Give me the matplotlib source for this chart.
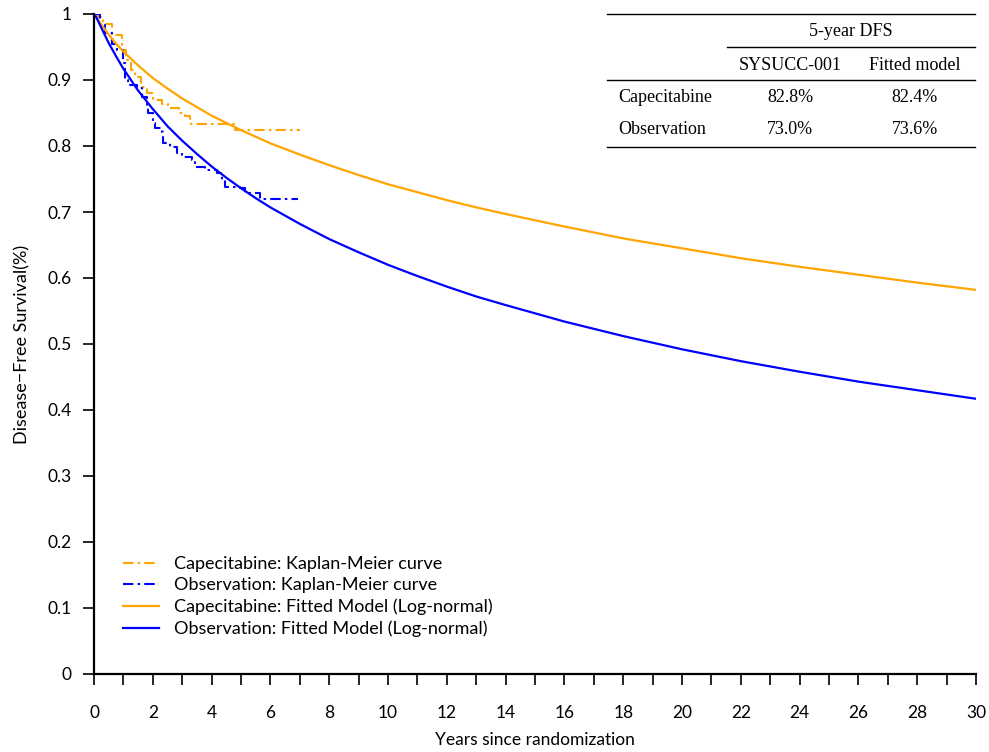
import matplotlib
matplotlib.use("Agg")
import matplotlib.pyplot as plt
from matplotlib.lines import Line2D

# Fitted log-normal curves
fit_t = [0, 0.05, 0.1, 0.25, 0.5, 0.75, 1, 1.5, 2, 2.5, 3, 3.5, 4, 4.5, 5, 5.5,
         6, 7, 8, 9, 10, 11, 12, 13, 14, 16, 18, 20, 22, 24, 26, 28, 30]
cape_fit = [1.0, 0.997, 0.994, 0.984, 0.969, 0.955, 0.943, 0.922, 0.903, 0.887,
            0.872, 0.859, 0.846, 0.835, 0.824, 0.814, 0.804, 0.787, 0.771,
            0.756, 0.742, 0.730, 0.718, 0.707, 0.697, 0.678, 0.660, 0.645,
            0.630, 0.617, 0.605, 0.593, 0.582]
obs_fit = [1.0, 0.997, 0.993, 0.979, 0.956, 0.936, 0.917, 0.884, 0.856, 0.830,
           0.808, 0.788, 0.769, 0.752, 0.736, 0.721, 0.707, 0.682, 0.659,
           0.639, 0.620, 0.603, 0.587, 0.572, 0.559, 0.534, 0.512, 0.492,
           0.474, 0.458, 0.443, 0.430, 0.417]

# Kaplan-Meier step curves
cape_km_t = [0, 0.15, 0.3, 0.6, 0.95, 1.1, 1.25, 1.4, 1.6, 1.8, 2.0, 2.3, 2.5,
             2.9, 3.1, 3.25, 3.3, 4.8, 7.0]
cape_km_s = [1.0, 0.995, 0.985, 0.968, 0.945, 0.93, 0.915, 0.905, 0.89, 0.88,
             0.87, 0.863, 0.857, 0.85, 0.845, 0.838, 0.833, 0.825, 0.825]
obs_km_t = [0, 0.2, 0.37, 0.6, 0.78, 0.99, 1.05, 1.16, 1.46, 1.63, 1.8, 1.84,
            2.0, 2.07, 2.31, 2.35, 2.59, 2.82, 2.99, 3.33, 3.44, 3.78, 4.18,
            4.35, 4.46, 4.97, 5.14, 5.65, 6.95]
obs_km_s = [1.0, 0.985, 0.971, 0.955, 0.945, 0.926, 0.900, 0.892, 0.888, 0.874,
            0.859, 0.85, 0.835, 0.827, 0.821, 0.805, 0.798, 0.789, 0.783, 0.779,
            0.768, 0.764, 0.759, 0.748, 0.738, 0.736, 0.729, 0.720, 0.720]

# Summary table
table_groups = ["Capecitabine", "Observation"]
table_cols = ["SYSUCC-001", "Fitted model"]
table_vals = [["82.8%", "82.4%"], ["73.0%", "73.6%"]]

ORANGE = "#FFA500"
BLUE = "#0000FF"
SANS = ["Lato", "DejaVu Sans"]
SERIF = ["Liberation Serif", "DejaVu Serif"]
plt.rcParams["font.family"] = SANS

W, H = 989, 752
fig = plt.figure(figsize=(W / 100, H / 100), dpi=100)
ax = fig.add_axes([94 / W, 1 - 674 / H, (976 - 94) / W, (674 - 14) / H])

kmstyle = (0, (5, 2, 1.2, 2))
ax.plot(cape_km_t, cape_km_s, drawstyle="steps-post", color=ORANGE, lw=1.5,
        linestyle=kmstyle, label="Capecitabine: Kaplan-Meier curve")
ax.plot(obs_km_t, obs_km_s, drawstyle="steps-post", color=BLUE, lw=1.5,
        linestyle=kmstyle, label="Observation: Kaplan-Meier curve")
ax.plot(fit_t, cape_fit, color=ORANGE, lw=1.6,
        label="Capecitabine: Fitted Model (Log-normal)")
ax.plot(fit_t, obs_fit, color=BLUE, lw=1.6,
        label="Observation: Fitted Model (Log-normal)")

ax.set_xlim(0, 30)
ax.set_ylim(0, 1)
ax.set_xticks(range(0, 31))
ax.set_xticklabels([str(i) if i % 2 == 0 else "" for i in range(0, 31)])
ax.set_yticks([i / 10 for i in range(11)])
ax.set_yticklabels(["0"] + ["0.%d" % i for i in range(1, 10)] + ["1"])
for s in ["top", "right"]:
    ax.spines[s].set_visible(False)
for s in ["left", "bottom"]:
    ax.spines[s].set_linewidth(1.6)
ax.tick_params(axis="both", direction="out", length=8, width=1.2,
               labelsize=12.5)
ax.tick_params(axis="x", pad=14)
ax.tick_params(axis="y", pad=8)
ax.set_xlabel("Years since randomization", fontsize=12.5, labelpad=8)
ax.set_ylabel("Disease\u2212Free Survival(%)", fontsize=13, labelpad=12)

leg = ax.legend(loc="lower left", bbox_to_anchor=(0.014, 0.031), frameon=False,
                fontsize=13, handlelength=2.0, handletextpad=0.85,
                labelspacing=0.3)


def fx(x):
    return x / W


def fy(y):
    return 1 - y / H


# table rules
for x0, x1, y in [(607, 975, 14), (727, 975, 47), (607, 975, 80), (607, 975, 147)]:
    fig.add_artist(Line2D([fx(x0), fx(x1)], [fy(y), fy(y)], color="black",
                          lw=1.0, transform=fig.transFigure))

col_x = [790, 915]
fs = 13
fig.text(fx(851), fy(31), "5-year DFS", family=SERIF, fontsize=fs,
         ha="center", va="center")
for cx, name in zip(col_x, table_cols):
    fig.text(fx(cx), fy(65), name, family=SERIF, fontsize=fs,
             ha="center", va="center")
for row, (grp, vals) in enumerate(zip(table_groups, table_vals)):
    ry = 98 + row * 32
    fig.text(fx(618), fy(ry), grp, family=SERIF, fontsize=fs,
             ha="left", va="center")
    for cx, v in zip(col_x, vals):
        fig.text(fx(cx), fy(ry), v, family=SERIF, fontsize=fs,
                 ha="center", va="center")

fig.savefig("out.png", dpi=100)
